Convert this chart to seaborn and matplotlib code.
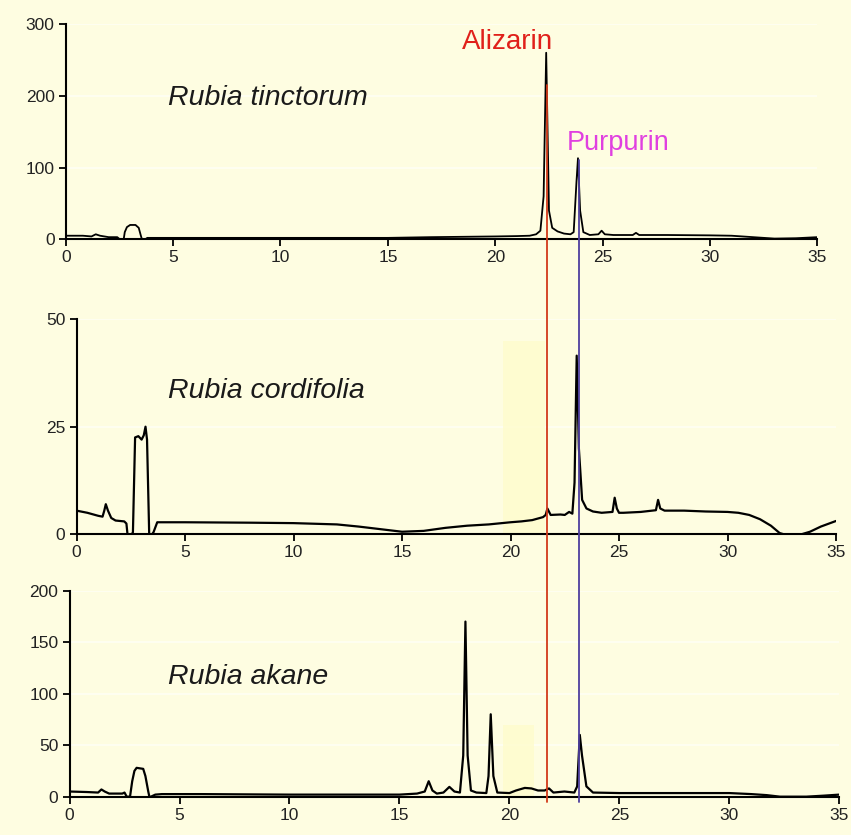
import matplotlib
matplotlib.use("Agg")
import matplotlib.pyplot as plt
from matplotlib.lines import Line2D
import numpy as np
import pandas as pd
import seaborn as sns

# retention time (min) / absorbance
t_tinct = [0, 0.8, 1.2, 1.4, 1.6, 2.0, 2.4, 2.5, 2.7, 2.75, 2.85, 3.0, 3.25, 3.4, 3.5, 3.55, 3.7, 3.8,
           5, 8, 12, 15, 17, 18.5, 20, 21, 21.6, 21.9, 22.1, 22.25, 22.37, 22.5, 22.65, 22.9, 23.2,
           23.5, 23.65, 23.78, 23.85, 23.95, 24.1, 24.4, 24.8, 24.95, 25.1, 25.5, 26.4, 26.55, 26.7,
           28, 30, 31, 32, 33, 34, 35]
y_tinct = [5, 5, 4, 7, 5, 3, 3, 0.5, 0, 10, 17, 20, 20, 16, 5, 0, 0, 2,
           2, 2, 2, 2, 3, 3.5, 4, 4.5, 5, 7, 12, 60, 260, 40, 16, 11, 8,
           7, 10, 80, 113, 40, 10, 6, 7, 12, 7, 6, 6, 9, 6,
           6, 5.5, 5, 3, 1, 1.5, 3]

t_cord = [0, 0.5, 1.0, 1.2, 1.28, 1.35, 1.45, 1.6, 1.8, 2.2, 2.3, 2.35, 2.55, 2.6, 2.7, 2.85, 3.0,
          3.1, 3.18, 3.25, 3.35, 3.48, 3.55, 3.72, 5, 8, 10, 12, 13, 14, 15, 16, 17, 18, 19, 20,
          20.5, 21, 21.5, 21.62, 21.7, 21.85, 22.3, 22.5, 22.7, 22.85, 22.95, 23.05, 23.15, 23.3,
          23.5, 23.8, 24.2, 24.7, 24.8, 24.9, 25.0, 25.2, 26, 26.7, 26.8, 26.9, 27.1, 28, 29, 30,
          30.5, 31, 31.5, 32, 32.4, 32.6, 33.4, 33.8, 34.3, 35]
y_cord = [5.5, 5, 4.3, 4.1, 5.5, 7, 5.5, 3.8, 3.2, 3, 2.5, 0, 0, 0.5, 22.5, 22.8, 22,
          23, 25, 22, 0, 0, 0.5, 2.8, 2.8, 2.7, 2.6, 2.3, 1.8, 1.2, 0.6, 0.8, 1.5, 2.0, 2.3, 2.8,
          3.0, 3.3, 4.0, 4.5, 6, 4.5, 4.6, 4.5, 5.2, 4.8, 12, 41.5, 20, 8,
          6, 5.3, 5, 5.2, 8.5, 6, 5, 5, 5.2, 5.6, 8, 6, 5.5, 5.5, 5.3, 5.2,
          5, 4.5, 3.5, 2, 0.3, 0, 0, 0.6, 1.8, 3.1]

t_akane = [0, 0.8, 1.3, 1.45, 1.6, 1.8, 2.4, 2.5, 2.6, 2.75, 2.85, 2.95, 3.05, 3.35, 3.45, 3.58,
           3.63, 3.7, 3.9, 4.2, 6, 10, 14, 15, 15.8, 16.15, 16.33, 16.5, 16.7, 17.0, 17.27, 17.5,
           17.75, 17.9, 18.0, 18.1, 18.25, 18.5, 18.95, 19.05, 19.15, 19.27, 19.45, 20, 20.3, 20.7,
           21.0, 21.3, 21.6, 21.8, 22.0, 22.5, 22.95, 23.08, 23.2, 23.3, 23.5, 23.8, 25, 28, 30, 31,
           31.7, 32.3, 33.5, 34.3, 35]
y_akane = [5, 4.5, 4, 7, 5, 3, 3, 4, 0, 0, 15, 25, 28, 27, 20, 5,
           0, 0, 2, 2.5, 2.5, 2, 2, 2, 3, 5, 15, 6, 3, 4, 9.5, 5,
           4, 40, 170, 40, 6, 4, 3.5, 20, 80, 20, 4, 3.5, 6, 8.5,
           8, 6, 6, 8, 4, 5, 4, 10, 60, 40, 10, 4, 3.5, 3.5, 3.5, 2.5,
           1.5, 0, 0, 1, 2]

species = ["Rubia tinctorum", "Rubia cordifolia", "Rubia akane"]
y_max = [300, 50, 200]
y_ticks = [[0, 100, 200, 300], [0, 25, 50], [0, 50, 100, 150, 200]]
x_ticks = [0, 5, 10, 15, 20, 25, 30, 35]

bg = "#FEFDE1"
sns.set_style("ticks", {"axes.facecolor": bg, "figure.facecolor": bg})
plt.rcParams["font.family"] = ["Liberation Sans", "DejaVu Sans"]

fig = plt.figure(figsize=(8.51, 8.35), dpi=100)
# axes boxes in figure fractions
boxes = [
    [0.0772, 0.7134, 0.8834, 0.2578],
    [0.0899, 0.3601, 0.8925, 0.2578],
    [0.0817, 0.0459, 0.9046, 0.2467],
]
traces = [(t_tinct, y_tinct), (t_cord, y_cord), (t_akane, y_akane)]
label_pos = [(4.75, 197), (4.22, 33.3), (4.48, 116)]
line_w = [1.3, 1.6, 1.6]

for i, box in enumerate(boxes):
    ax = fig.add_axes(box)
    df = pd.DataFrame({"time": traces[i][0], "signal": traces[i][1]})
    for yt in y_ticks[i][1:]:
        ax.axhline(yt, color="white", lw=1.2, alpha=0.6, zorder=0)
    if i == 1:
        ax.axvspan(19.65, 21.6, ymax=0.9, color="#FFFCCC", alpha=0.8, lw=0, zorder=0)
    if i == 2:
        ax.axvspan(19.7, 21.1, ymax=0.35, color="#FFFCCC", alpha=0.8, lw=0, zorder=0)
    sns.lineplot(data=df, x="time", y="signal", ax=ax, color="black", lw=line_w[i],
                 sort=False, estimator=None)
    ax.set_xlim(0, 35)
    ax.set_ylim(0, y_max[i])
    ax.set_xticks(x_ticks)
    ax.set_yticks(y_ticks[i])
    ax.set_xlabel("")
    ax.set_ylabel("")
    ax.tick_params(direction="out", length=5, width=1.3, colors="black",
                   labelcolor="#222222", labelsize=12.5, pad=3)
    for s in ["top", "right"]:
        ax.spines[s].set_visible(False)
    for s in ["left", "bottom"]:
        ax.spines[s].set_linewidth(1.5)
        ax.spines[s].set_color("black")
    ax.text(label_pos[i][0], label_pos[i][1], species[i], fontsize=20.5,
            style="italic", va="center", ha="left", color="#1a1a1a")

# marker lines for the two dyes, running across all panels
fig.add_artist(Line2D([546.5 / 851, 546.5 / 851], [1 - 85 / 835, 1 - 802 / 835],
                      color="#D23A1A", lw=1.3, zorder=5))
fig.add_artist(Line2D([578.5 / 851, 578.5 / 851], [1 - 160 / 835, 1 - 802 / 835],
                      color="#4E3F9E", lw=1.3, zorder=5))
fig.text(507 / 851, 1 - 42 / 835, "Alizarin", color="#E0201A", fontsize=20,
         ha="center", va="center")
fig.text(618 / 851, 1 - 143 / 835, "Purpurin", color="#E040E0", fontsize=19.5,
         ha="center", va="center")

fig.savefig("out.png", dpi=100, facecolor=bg)
